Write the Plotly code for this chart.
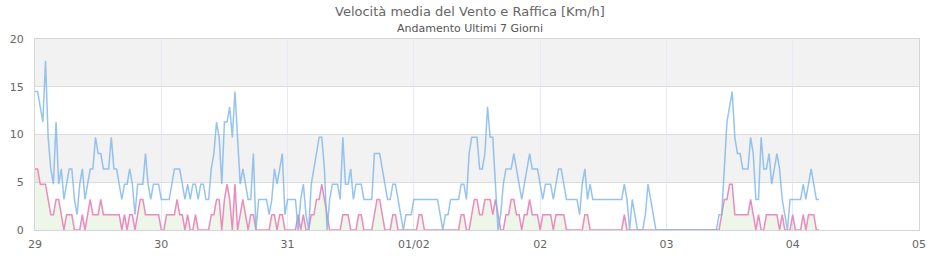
import pandas as pd
import plotly.graph_objects as go

title_text = "Velocità media del Vento e Raffica [Km/h]"
subtitle_text = "Andamento Ultimi 7 Giorni"
start_time = "2025-01-29 00:00"
sample_step = "30min"

# Raffica (gust), km/h, every 30 minutes from 29/01 00:00
gust_kmh = [
    14.5, 14.5, 12.9, 11.3, 17.7, 9.7, 6.4, 4.8, 11.3, 4.8, 6.4, 3.2, 4.8, 6.4, 6.4, 3.2,
    1.6, 4.8, 6.4, 3.2, 4.8, 6.4, 6.4, 9.7, 8.0, 8.0, 6.4, 6.4, 6.4, 9.7, 6.4, 6.4,
    4.8, 3.2, 4.8, 4.8, 6.4, 4.8, 1.6, 4.8, 4.8, 4.8, 8.0, 4.8, 3.2, 4.8, 4.8, 4.8,
    3.2,
    3.2, 3.2, 3.2, 4.8, 6.4, 6.4, 6.4, 4.8, 3.2, 4.8, 3.2, 4.8, 4.8, 3.2, 4.8, 4.8,
    3.2, 3.2, 6.4, 8.0, 11.3, 9.7, 4.8, 11.3, 11.3, 12.9, 9.7, 14.5, 9.7, 4.8, 6.4, 4.8,
    3.2, 3.2, 8.0, 0.0, 3.2, 3.2, 3.2, 3.2, 1.6, 3.2, 6.4, 4.8, 6.4, 8.0, 1.6, 3.2,
    3.2, 3.2, 3.2,
    0.0, 3.2, 4.8, 1.6, 0.0, 4.8, 6.4, 8.0, 9.7, 9.7, 6.4, 0.0, 3.2, 4.8, 4.8, 4.8,
    3.2, 9.7, 4.8, 4.8, 6.4, 3.2, 4.8, 4.8, 4.8, 3.2, 3.2, 3.2, 3.2, 8.0, 8.0, 8.0,
    6.4, 4.8, 3.2, 3.2, 4.8, 4.8, 3.2, 1.6, 0.0, 1.6, 1.6, 1.6, 3.2, 3.2, 3.2, 3.2,
    3.2, 3.2,
    3.2, 3.2, 3.2, 3.2, 1.6, 0.0, 1.6, 1.6, 3.2, 3.2, 3.2, 3.2, 4.8, 4.8, 3.2, 8.0,
    9.7, 9.7, 9.7, 6.4, 6.4, 8.0, 12.9, 9.7, 9.7, 4.8, 0.0, 1.6, 4.8, 6.4, 6.4, 6.4,
    8.0, 6.4, 4.8, 3.2, 4.8, 6.4, 8.0, 6.4, 6.4, 6.4, 4.8, 3.2, 4.8, 4.8, 4.8, 3.2,
    4.8, 6.4, 6.4,
    4.8, 3.2, 3.2, 3.2, 3.2, 3.2, 1.6, 4.8, 6.4, 3.2, 4.8, 3.2, 3.2, 3.2, 3.2, 3.2,
    3.2, 3.2, 3.2, 3.2, 3.2, 3.2, 3.2, 4.8, 3.2, 0.0, 3.2, 1.6, 0.0, 0.0, 0.0, 1.6,
    4.8, 3.2, 1.6, 0.0, 0.0, 0.0, 0.0, 0.0, 0.0, 0.0, 0.0, 0.0, 0.0, 0.0, 0.0, 0.0,
    0.0, 0.0,
    0.0, 0.0, 0.0, 0.0, 0.0, 0.0, 0.0, 0.0, 0.0, 1.6, 1.6, 6.4, 11.3, 12.9, 14.5, 9.7,
    8.0, 8.0, 6.4, 6.4, 6.4, 9.7, 8.0, 3.2, 3.2, 9.7, 6.4, 6.4, 8.0, 4.8, 6.4, 8.0,
    6.4, 3.2, 1.6, 0.0, 3.2, 3.2, 3.2, 3.2, 3.2, 4.8, 3.2, 4.8, 6.4, 4.8, 3.2, 3.2,
]

# Velocità media (mean wind), km/h, same timestamps
mean_kmh = [
    6.4, 6.4, 4.8, 4.8, 4.8, 3.2, 1.6, 1.6, 3.2, 3.2, 1.6, 0.0, 1.6, 1.6, 1.6, 0.0,
    0.0, 0.0, 1.6, 0.0, 1.6, 3.2, 1.6, 1.6, 1.6, 3.2, 1.6, 1.6, 1.6, 1.6, 1.6, 1.6,
    1.6, 0.0, 1.6, 0.0, 1.6, 1.6, 0.0, 1.6, 3.2, 3.2, 1.6, 1.6, 1.6, 1.6, 1.6, 1.6,
    0.0,
    0.0, 1.6, 1.6, 1.6, 1.6, 3.2, 1.6, 1.6, 0.0, 1.6, 0.0, 0.0, 1.6, 0.0, 0.0, 0.0,
    0.0, 0.0, 1.6, 1.6, 3.2, 3.2, 0.0, 3.2, 4.8, 3.2, 0.0, 4.8, 0.0, 1.6, 3.2, 1.6,
    0.0, 1.6, 1.6, 0.0, 0.0, 0.0, 0.0, 0.0, 0.0, 1.6, 1.6, 0.0, 1.6, 1.6, 0.0, 0.0,
    0.0, 0.0, 0.0,
    1.6, 0.0, 1.6, 0.0, 0.0, 1.6, 1.6, 3.2, 3.2, 4.8, 3.2, 1.6, 0.0, 0.0, 0.0, 0.0,
    0.0, 1.6, 1.6, 1.6, 0.0, 0.0, 0.0, 1.6, 1.6, 0.0, 0.0, 0.0, 0.0, 1.6, 3.2, 3.2,
    1.6, 0.0, 0.0, 0.0, 1.6, 1.6, 0.0, 0.0, 0.0, 0.0, 0.0, 0.0, 0.0, 0.0, 1.6, 1.6,
    0.0, 0.0,
    0.0, 0.0, 0.0, 0.0, 0.0, 0.0, 0.0, 0.0, 0.0, 0.0, 0.0, 0.0, 1.6, 1.6, 0.0, 0.0,
    1.6, 3.2, 3.2, 1.6, 1.6, 3.2, 3.2, 3.2, 1.6, 3.2, 1.6, 0.0, 0.0, 1.6, 1.6, 3.2,
    3.2, 1.6, 1.6, 0.0, 1.6, 1.6, 3.2, 1.6, 1.6, 1.6, 0.0, 1.6, 1.6, 1.6, 1.6, 0.0,
    1.6, 1.6, 1.6,
    1.6, 0.0, 0.0, 0.0, 0.0, 0.0, 0.0, 0.0, 1.6, 1.6, 0.0, 0.0, 0.0, 0.0, 0.0, 0.0,
    0.0, 0.0, 0.0, 0.0, 0.0, 0.0, 0.0, 1.6, 0.0, 0.0, 0.0, 0.0, 0.0, 0.0, 0.0, 0.0,
    0.0, 0.0, 0.0, 0.0, 0.0, 0.0, 0.0, 0.0, 0.0, 0.0, 0.0, 0.0, 0.0, 0.0, 0.0, 0.0,
    0.0, 0.0,
    0.0, 0.0, 0.0, 0.0, 0.0, 0.0, 0.0, 0.0, 0.0, 0.0, 1.6, 3.2, 3.2, 4.8, 4.8, 1.6,
    1.6, 1.6, 1.6, 1.6, 1.6, 3.2, 1.6, 0.0, 1.6, 0.0, 0.0, 1.6, 1.6, 1.6, 1.6, 1.6,
    0.0, 1.6, 0.0, 0.0, 0.0, 1.6, 0.0, 0.0, 0.0, 1.6, 0.0, 1.6, 1.6, 1.6, 0.0, 0.0,
]

x_range = ["2025-01-29 00:00", "2025-02-05 00:00"]
x_tick_dates = ["2025-01-29", "2025-01-30", "2025-01-31", "2025-02-01",
                "2025-02-02", "2025-02-03", "2025-02-04", "2025-02-05"]
x_tick_labels = ["29", "30", "31", "01/02", "02", "03", "04", "05"]
y_ticks = [0, 5, 10, 15, 20]
y_range = [0, 20]
alt_bands = [(5, 10), (15, 20)]

assert len(gust_kmh) == len(mean_kmh)
times = pd.date_range(start_time, periods=len(gust_kmh), freq=sample_step)

FONT = "DejaVu Sans"

fig = go.Figure()
fig.add_trace(go.Scatter(
    x=times, y=mean_kmh, mode="lines", name="Velocità media",
    line=dict(color="#ea8cbf", width=1.5),
    fill="tozeroy", fillcolor="rgba(150,190,120,0.16)",
))
fig.add_trace(go.Scatter(
    x=times, y=gust_kmh, mode="lines", name="Raffica",
    line=dict(color="rgba(124,181,236,0.8)", width=1.5),
))

shapes = []
for lo, hi in alt_bands:
    shapes.append(dict(type="rect", xref="paper", yref="y", x0=0, x1=1, y0=lo, y1=hi,
                       fillcolor="#f2f2f2", line=dict(width=0), layer="below"))

fig.update_layout(
    width=940, height=260,
    margin=dict(l=35, r=21, t=39, b=30),
    paper_bgcolor="white", plot_bgcolor="white",
    showlegend=False,
    font=dict(family=FONT, size=11, color="#666666"),
    shapes=shapes,
    annotations=[
        dict(text=title_text, xref="paper", yref="paper", x=0.4921, y=1.143,
             xanchor="center", yanchor="middle", showarrow=False,
             font=dict(family=FONT, size=13, color="#666666")),
        dict(text=subtitle_text, xref="paper", yref="paper", x=0.4921, y=1.054,
             xanchor="center", yanchor="middle", showarrow=False,
             font=dict(family=FONT, size=11, color="#555555")),
    ],
    xaxis=dict(
        type="date", range=x_range, automargin=False,
        tickmode="array", tickvals=x_tick_dates, ticktext=x_tick_labels,
        showgrid=True, gridcolor="#e8e8f8", gridwidth=1,
        showline=True, linecolor="#d6d6d6", linewidth=1, mirror=True,
        ticks="outside", ticklen=4, tickcolor="rgba(0,0,0,0)",
        tickfont=dict(family=FONT, size=11, color="#666666"),
        zeroline=False,
    ),
    yaxis=dict(
        range=y_range, tickmode="array", tickvals=y_ticks, automargin=False,
        showgrid=True, gridcolor="#dddddd", gridwidth=1,
        showline=True, linecolor="#d6d6d6", linewidth=1, mirror=True,
        ticks="outside", ticklen=8, tickcolor="rgba(0,0,0,0)",
        tickfont=dict(family=FONT, size=11, color="#666666"),
        zeroline=False,
    ),
)

fig.write_html("out.html")
